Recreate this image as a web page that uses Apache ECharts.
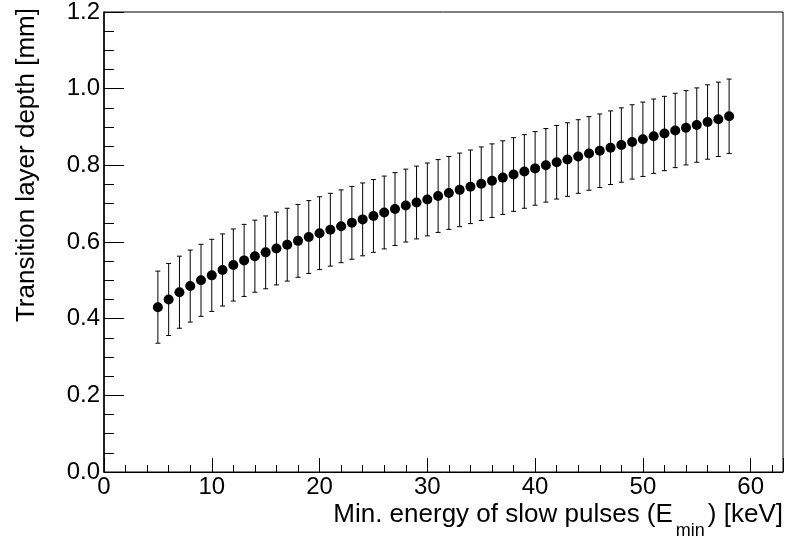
<!DOCTYPE html>
<html><head><meta charset="utf-8">
<script src="https://cdn.jsdelivr.net/npm/echarts@6/dist/echarts.min.js"></script>
<style>html,body{margin:0;padding:0;background:#fff}#c{width:785px;height:546px}</style>
</head><body><div id="c"></div>
<script>
var energies = [5,6,7,8,9,10,11,12,13,14,15,16,17,18,19,20,21,22,23,24,25,26,27,28,29,30,31,32,33,34,35,36,37,38,39,40,41,42,43,44,45,46,47,48,49,50,51,52,53,54,55,56,57,58];
var depths = [0.430,0.450,0.469,0.485,0.500,0.513,0.527,0.540,0.552,0.563,0.573,0.583,0.593,0.603,0.613,0.623,0.632,0.641,0.650,0.659,0.668,0.677,0.686,0.695,0.703,0.711,0.720,0.728,0.736,0.744,0.752,0.760,0.768,0.776,0.784,0.792,0.800,0.808,0.815,0.823,0.831,0.838,0.846,0.853,0.861,0.868,0.876,0.883,0.891,0.898,0.905,0.913,0.920,0.928];
var errors = [0.094,0.094,0.094,0.094,0.094,0.094,0.094,0.094,0.094,0.094,0.095,0.095,0.095,0.095,0.095,0.095,0.095,0.095,0.095,0.095,0.095,0.095,0.095,0.095,0.095,0.095,0.095,0.095,0.096,0.096,0.096,0.096,0.096,0.096,0.096,0.096,0.096,0.096,0.096,0.096,0.096,0.096,0.096,0.097,0.097,0.097,0.097,0.097,0.097,0.097,0.097,0.097,0.097,0.097];
var yTicks = ['0.0','0.2','0.4','0.6','0.8','1.0','1.2'];
var xTitle = 'Min. energy of slow pulses (E';
var xTitleSub = 'min';
var xTitleEnd = ') [keV]';
var yTitle = 'Transition layer depth [mm]';

var pts = energies.map(function(e,i){return [e, depths[i]];});
var errData = energies.map(function(e,i){return [e, depths[i]-errors[i], depths[i]+errors[i]];});
var font = 'Liberation Sans, Arial, Helvetica, sans-serif';

var chart = echarts.init(document.getElementById('c'));
chart.setOption({
  animation:false,
  backgroundColor:'#fff',
  grid:{left:104,right:2,top:8,bottom:74,show:true,borderColor:'#000',borderWidth:1,backgroundColor:'transparent'},
  xAxis:{type:'value',min:0,max:63,interval:10,
    axisLine:{lineStyle:{color:'#000',width:1}},
    axisTick:{inside:true,length:14,lineStyle:{color:'#000'}},
    minorTick:{show:true,splitNumber:5,length:7,lineStyle:{color:'#000'}},
    splitLine:{show:false},
    axisLabel:{color:'#000',fontSize:24,fontFamily:font,margin:3,showMaxLabel:false}
  },
  yAxis:{type:'value',min:0,max:1.2,interval:0.2,
    axisLine:{lineStyle:{color:'#000',width:1.5}},
    axisTick:{inside:true,length:20,lineStyle:{color:'#000'}},
    minorTick:{show:true,splitNumber:4,length:10,lineStyle:{color:'#000'}},
    splitLine:{show:false},
    axisLabel:{color:'#000',fontSize:24,fontFamily:font,margin:4,
      formatter:function(v){var i=Math.round(v/0.2);return yTicks[i]!==undefined?yTicks[i]:'';}}
  },
  graphic:[
    {type:'text',right:2,top:502,style:{rich:{n:{fontSize:26,fontFamily:font,fill:'#000'},s:{fontSize:18,fontFamily:font,fill:'#000',padding:[32,3,0,3]}},text:'{n|'+xTitle+'}{s|'+xTitleSub+'}{n|'+xTitleEnd+'}',fill:'#000'}},
    {type:'text',x:27,y:8,rotation:Math.PI/2,style:{text:yTitle,fontSize:26,fontFamily:font,fill:'#000',align:'right',verticalAlign:'middle'}}
  ],
  series:[
    {type:'custom',data:errData,z:2,
      renderItem:function(params,api){
        var x=api.value(0);
        var lo=api.coord([x,api.value(1)]);
        var hi=api.coord([x,api.value(2)]);
        var c=2.5;
        return {type:'group',children:[
          {type:'line',shape:{x1:lo[0],y1:lo[1],x2:hi[0],y2:hi[1]},style:{stroke:'#000',lineWidth:1}},
          {type:'line',shape:{x1:lo[0]-c,y1:lo[1],x2:lo[0]+c,y2:lo[1]},style:{stroke:'#000',lineWidth:1}},
          {type:'line',shape:{x1:hi[0]-c,y1:hi[1],x2:hi[0]+c,y2:hi[1]},style:{stroke:'#000',lineWidth:1}}
        ]};
      }},
    {type:'scatter',data:pts,symbol:'circle',symbolSize:10,itemStyle:{color:'#000',opacity:1},z:3}
  ]
});
</script></body></html>
